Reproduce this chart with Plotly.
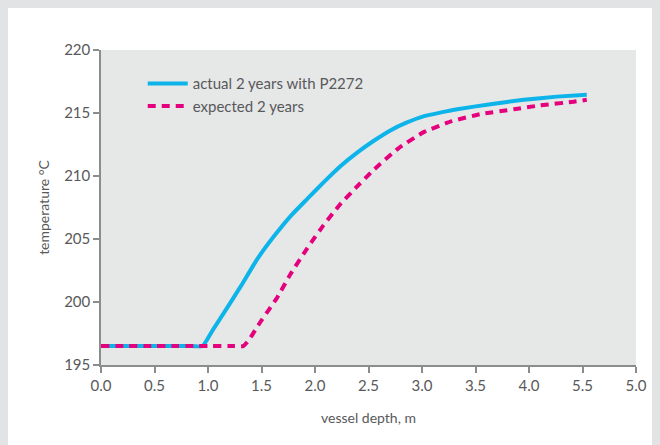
import plotly.graph_objects as go

# Data (x in axis units, temperature in °C)
actual_x = [0.0, 0.85, 0.95, 1.05, 1.15, 1.31, 1.46, 1.62, 1.77, 1.93, 2.08, 2.24, 2.40, 2.55, 2.70, 2.86, 3.02, 3.18, 3.33, 3.64, 3.95, 4.26, 4.54]
actual_y = [196.5, 196.5, 196.5, 197.85, 199.15, 201.3, 203.4, 205.25, 206.8, 208.2, 209.5, 210.8, 211.9, 212.8, 213.6, 214.25, 214.75, 215.05, 215.3, 215.7, 216.05, 216.3, 216.45]

expected_x = [0.0, 1.25, 1.33, 1.38, 1.44, 1.50, 1.57, 1.65, 1.77, 1.93, 2.08, 2.23, 2.38, 2.55, 2.78, 3.02, 3.28, 3.54, 3.86, 4.10, 4.42, 4.54]
expected_y = [196.5, 196.5, 196.5, 196.95, 197.75, 198.55, 199.4, 200.4, 202.2, 204.3, 206.1, 207.7, 209.05, 210.5, 212.2, 213.5, 214.35, 214.9, 215.3, 215.6, 215.9, 216.05]

x_tickvals = [0.0, 0.5, 1.0, 1.5, 2.0, 2.5, 3.0, 3.5, 4.0, 4.5, 5.0]
x_ticktext = ["0.0", "0.5", "1.0", "1.5", "2.0", "2.5", "3.0", "3.5", "4.0", "5.5", "5.0"]
y_tickvals = [195, 200, 205, 210, 215, 220]

BLUE = "#0db4e9"
PINK = "#e5007d"
AXIS = "#8c8c8c"
TXT = "#58595b"
FONT = "Lato"

fig = go.Figure()
fig.add_trace(go.Scatter(x=actual_x, y=actual_y, mode="lines", name="actual 2 years with P2272",
                         line=dict(color=BLUE, width=4, shape="spline", smoothing=0.4)))
fig.add_trace(go.Scatter(x=expected_x, y=expected_y, mode="lines", name="expected 2 years",
                         line=dict(color=PINK, width=4, dash="8px,6px", shape="spline", smoothing=0.4)))

# page has an 8px body margin: figure is sized to fit the remaining window
W, H = 652, 437
L, R, T, B = 93, 24, 42, 80
fig.update_layout(
    width=W, height=H,
    margin=dict(l=L, r=R, t=T, b=B, pad=0),
    paper_bgcolor="white",
    plot_bgcolor="#e6e7e7",
    font=dict(family=FONT, color=TXT, size=14),
    showlegend=True,
    legend=dict(x=0.078, y=0.945, xanchor="left", yanchor="top", bgcolor="rgba(0,0,0,0)",
                font=dict(size=15, color=TXT), tracegroupgap=0, itemwidth=40),
    xaxis=dict(range=[0, 5], tickvals=x_tickvals, ticktext=x_ticktext, showgrid=False, zeroline=False,
               showline=True, linecolor=AXIS, linewidth=1.5, ticks="outside", ticklen=6, tickcolor=AXIS,
               tickwidth=1.5, tickfont=dict(size=15, color=TXT),
               title=dict(text="vessel depth, m", font=dict(size=14, color=TXT), standoff=20)),
    yaxis=dict(range=[195, 220], tickvals=y_tickvals, showgrid=False, zeroline=False,
               showline=True, linecolor=AXIS, linewidth=1.5, ticks="outside", ticklen=6, tickcolor=AXIS,
               tickwidth=1.5, tickfont=dict(size=15, color=TXT),
               title=dict(text="temperature °C", font=dict(size=14, color=TXT), standoff=11)),
)

# light grey page frame showing at the top and left edge
fig.write_html("out.html", post_script="document.body.style.background='#e2e3e4';")
